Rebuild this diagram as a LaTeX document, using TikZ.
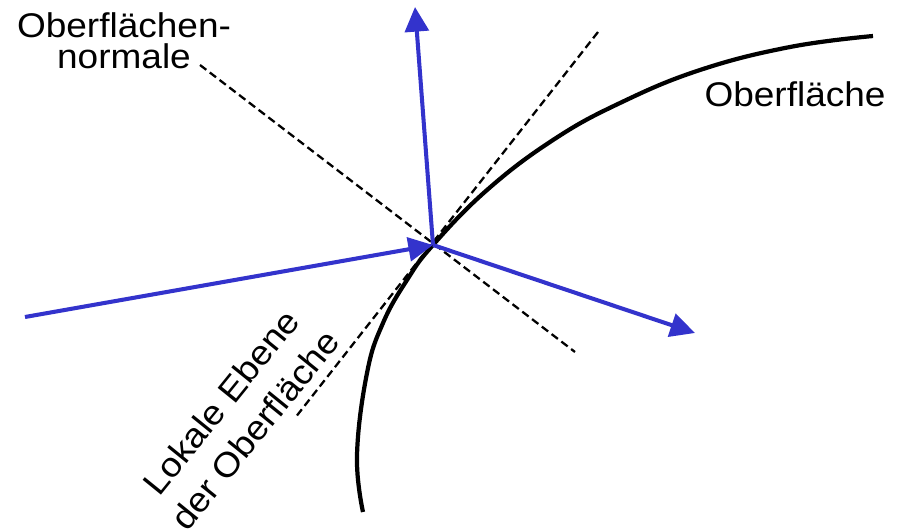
\documentclass[tikz,border=0pt]{standalone}
\usepackage{fontspec}
\setmainfont{Liberation Sans}[FakeStretch=1.08]
\usetikzlibrary{arrows.meta,positioning}
\definecolor{rayblue}{RGB}{51,51,204}
\tikzset{
  ray/.style={rayblue,line width=2.3pt,-{Triangle[length=14pt,width=13.5pt]}},
  helpline/.style={black,line width=1.3pt,dash pattern=on 4.5pt off 2.5pt},
  lbl/.style={font=\fontsize{19.5}{17.5}\selectfont,inner sep=0pt}
}
\begin{document}
\begin{tikzpicture}[x=0.02cm,y=-0.02cm]
    \useasboundingbox (0,0) rectangle (902,531);
    % surface and contact point
    \draw[line width=2.4pt] plot[smooth,tension=0.7] coordinates {(363,512) (357,455) (367,373) (383,323) (407,280) (433,245) (487,190) (553,140) (620,103) (700,70) (790,47) (873,36)};
    \coordinate (P) at (433,245);
    % normal and local plane
    \coordinate (n1) at (200,65); \coordinate (n2) at (575,352);
    \coordinate (t1) at (598,32); \coordinate (t2) at (295,418);
    \draw[helpline] (n1) -- (n2);
    \draw[helpline] (t1) -- (t2);
    % rays
    \coordinate (src) at (25,317); \coordinate (up) at (415,7); \coordinate (out) at (695,333);
    \draw[ray] (src) -- (P);
    \draw[ray] (P) -- (up);
    \draw[ray] (P) -- (out);
    % labels
    \node[lbl,align=center] (normlbl) at (124,41) {Oberflächen-\\normale};
    \node[lbl] (surflbl) at (795,94) {Oberfläche};
    \node[lbl,align=center,rotate=51,font=\fontsize{19.5}{25}\selectfont] (planelbl) at (238,416) {Lokale Ebene\\der Oberfläche};
\end{tikzpicture}
\end{document}
